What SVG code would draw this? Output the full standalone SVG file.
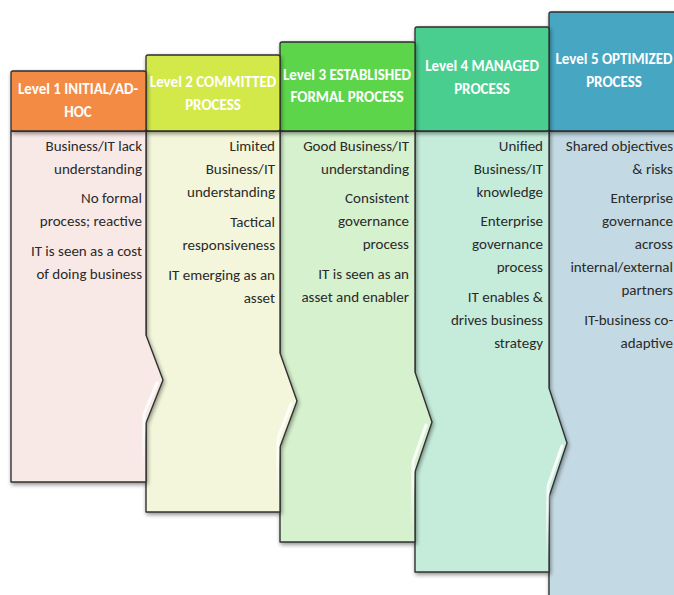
<svg xmlns="http://www.w3.org/2000/svg" width="674" height="595" viewBox="0 0 674 595">
  <defs>
    <filter id="shade" x="-10%" y="-10%" width="130%" height="130%">
      <feGaussianBlur in="SourceAlpha" stdDeviation="2"/>
      <feOffset dx="1" dy="2" result="b"/>
      <feComponentTransfer><feFuncA type="linear" slope="0.45"/></feComponentTransfer>
      <feMerge><feMergeNode/><feMergeNode in="SourceGraphic"/></feMerge>
    </filter>
    <filter id="soft" x="-20%" y="-20%" width="140%" height="140%">
      <feGaussianBlur stdDeviation="0.7"/>
    </filter>
    <linearGradient id="fade" x1="0" y1="0" x2="0" y2="1">
      <stop offset="0" stop-color="#fff" stop-opacity="0.95"/>
      <stop offset="0.55" stop-color="#fff" stop-opacity="0.7"/>
      <stop offset="1" stop-color="#fff" stop-opacity="0"/>
    </linearGradient>
    <style>
      .body { stroke: #333; stroke-width: 1.4; stroke-linejoin: round; filter: url(#shade); }
      .head { stroke: #2e2e2e; stroke-width: 1.3; filter: url(#shade); }
      .gloss { stroke: #fff; stroke-opacity: 0.5; stroke-width: 2.2; stroke-linecap: round; fill: none; filter: url(#soft); }
      .bevel { stroke: url(#fade); stroke-width: 3; fill: none; stroke-linecap: round; stroke-linejoin: round; filter: url(#soft); }
      .ttl { font-family: Carlito, Lato, "Liberation Sans", sans-serif; font-weight: bold; font-size: 15px; fill: #fff; text-anchor: middle; }
      .txt { font-family: Carlito, Lato, "Liberation Sans", sans-serif; font-size: 15px; fill: #2a2a2a; text-anchor: end; }
    </style>
  </defs>

  <rect width="674" height="595" fill="#fff"/>

  <!-- Level 5 -->
  <g id="level5">
    <polygon class="body" fill="#C3D9E3" points="549,131 690,131 690,600 549,600"/>
    <rect class="head" fill="#47A6C2" x="549" y="12" width="141" height="119" rx="2"/>
    <line class="gloss" x1="554" y1="18" x2="554" y2="126"/>
    <text class="ttl" x="614" y="64">Level 5 OPTIMIZED</text>
    <text class="ttl" x="614" y="87">PROCESS</text>
    <text class="txt" x="673" y="151">Shared objectives</text>
    <text class="txt" x="673" y="174">&amp; risks</text>
    <text class="txt" x="673" y="203">Enterprise</text>
    <text class="txt" x="673" y="226">governance</text>
    <text class="txt" x="673" y="249">across</text>
    <text class="txt" x="673" y="272">internal/external</text>
    <text class="txt" x="673" y="295">partners</text>
    <text class="txt" x="673" y="325">IT-business co-</text>
    <text class="txt" x="673" y="348">adaptive</text>
  </g>

  <!-- Level 4 -->
  <g id="level4">
    <polygon class="body" fill="#C5ECDA" points="415,131 549,131 549,388 567,443 549,497 549,572 415,572"/>
    <polyline class="bevel" points="562,446 548,486 547,560"/>
    <rect class="head" fill="#4ACE8F" x="415" y="27" width="134" height="104" rx="2"/>
    <line class="gloss" x1="420" y1="33" x2="420" y2="126"/>
    <line class="gloss" x1="544" y1="33" x2="544" y2="126"/>
    <text class="ttl" x="482" y="71">Level 4 MANAGED</text>
    <text class="ttl" x="482" y="94">PROCESS</text>
    <text class="txt" x="543" y="151">Unified</text>
    <text class="txt" x="543" y="174">Business/IT</text>
    <text class="txt" x="543" y="197">knowledge</text>
    <text class="txt" x="543" y="226">Enterprise</text>
    <text class="txt" x="543" y="249">governance</text>
    <text class="txt" x="543" y="272">process</text>
    <text class="txt" x="543" y="302">IT enables &amp;</text>
    <text class="txt" x="543" y="325">drives business</text>
    <text class="txt" x="543" y="348">strategy</text>
  </g>

  <!-- Level 3 -->
  <g id="level3">
    <polygon class="body" fill="#D5F1CD" points="280,131 415,131 415,372 432,422 415,472 415,542 280,542"/>
    <polyline class="bevel" points="426,425 413,462 412,530"/>
    <rect class="head" fill="#5DD54B" x="280" y="42" width="135" height="89" rx="2"/>
    <line class="gloss" x1="285" y1="48" x2="285" y2="126"/>
    <line class="gloss" x1="410" y1="48" x2="410" y2="126"/>
    <text class="ttl" x="347" y="80">Level 3 ESTABLISHED</text>
    <text class="ttl" x="347" y="102">FORMAL PROCESS</text>
    <text class="txt" x="409" y="151">Good Business/IT</text>
    <text class="txt" x="409" y="174">understanding</text>
    <text class="txt" x="409" y="203">Consistent</text>
    <text class="txt" x="409" y="226">governance</text>
    <text class="txt" x="409" y="249">process</text>
    <text class="txt" x="409" y="279">IT is seen as an</text>
    <text class="txt" x="409" y="302">asset and enabler</text>
  </g>

  <!-- Level 2 -->
  <g id="level2">
    <polygon class="body" fill="#F3F6DA" points="146,131 280,131 280,353 297,401 280,447 280,512 146,512"/>
    <polyline class="bevel" points="291,404 278,438 277,500"/>
    <rect class="head" fill="#D3E94A" x="146" y="55" width="134" height="76" rx="2"/>
    <line class="gloss" x1="151" y1="61" x2="151" y2="126"/>
    <line class="gloss" x1="275" y1="61" x2="275" y2="126"/>
    <text class="ttl" x="213" y="87">Level 2 COMMITTED</text>
    <text class="ttl" x="213" y="110">PROCESS</text>
    <text class="txt" x="275" y="151">Limited</text>
    <text class="txt" x="275" y="174">Business/IT</text>
    <text class="txt" x="275" y="197">understanding</text>
    <text class="txt" x="275" y="227">Tactical</text>
    <text class="txt" x="275" y="250">responsiveness</text>
    <text class="txt" x="275" y="280">IT emerging as an</text>
    <text class="txt" x="275" y="303">asset</text>
  </g>

  <!-- Level 1 -->
  <g id="level1">
    <polygon class="body" fill="#F8E9E7" points="11,131 146,131 146,335 163,380 146,423 146,482 11,482"/>
    <polyline class="bevel" points="157,383 144,414 143,470"/>
    <rect class="head" fill="#F38B45" x="11" y="71" width="135" height="60" rx="2"/>
    <line class="gloss" x1="16" y1="77" x2="16" y2="126"/>
    <line class="gloss" x1="141" y1="77" x2="141" y2="126"/>
    <text class="ttl" x="78" y="94">Level 1 INITIAL/AD-</text>
    <text class="ttl" x="78" y="117">HOC</text>
    <text class="txt" x="142" y="151">Business/IT lack</text>
    <text class="txt" x="142" y="174">understanding</text>
    <text class="txt" x="142" y="203">No formal</text>
    <text class="txt" x="142" y="226">process; reactive</text>
    <text class="txt" x="142" y="256">IT is seen as a cost</text>
    <text class="txt" x="142" y="279">of doing business</text>
  </g>
</svg>
